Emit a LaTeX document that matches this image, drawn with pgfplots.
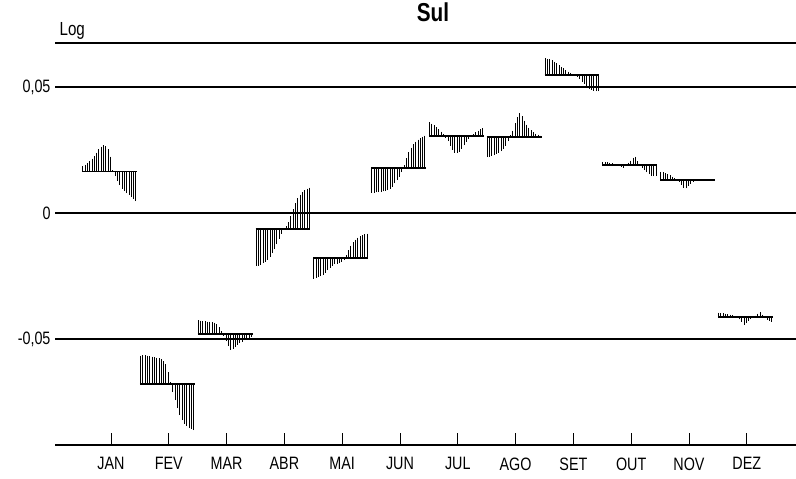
\documentclass[border=0pt]{standalone}
\usepackage{pgfplots}
\usepackage{pgfplotstable}
\pgfplotsset{compat=1.18}
\usepackage{fontspec}
\setmainfont{Liberation Sans}[FakeStretch=0.8]

\pgfplotstableread{
i m1 m2 m3 m4 m5 m6 m7 m8 m9 m10 m11 m12
0 0.01865 -0.05655 -0.04258 -0.02103 -0.02599 0.00806 0.03611 0.02222 0.06139 0.02036 0.01639 -0.03956
1 0.01925 -0.05647 -0.04270 -0.02083 -0.02579 0.00813 0.03552 0.02242 0.06123 0.02024 0.01615 -0.03968
2 0.01984 -0.05647 -0.04286 -0.02044 -0.02540 0.00821 0.03492 0.02282 0.06099 0.02012 0.01579 -0.03980
3 0.02063 -0.05655 -0.04298 -0.01984 -0.02500 0.00833 0.03413 0.02321 0.06063 0.02000 0.01548 -0.03996
4 0.02163 -0.05675 -0.04306 -0.01925 -0.02440 0.00845 0.03333 0.02361 0.06012 0.01976 0.01508 -0.04008
5 0.02262 -0.05694 -0.04313 -0.01845 -0.02361 0.00861 0.03234 0.02401 0.05952 0.01944 0.01448 -0.04036
6 0.02401 -0.05714 -0.04325 -0.01726 -0.02262 0.00885 0.03135 0.02460 0.05873 0.01913 0.01389 -0.04060
7 0.02540 -0.05734 -0.04345 -0.01587 -0.02163 0.00913 0.02996 0.02540 0.05806 0.01885 0.01349 -0.04087
8 0.02639 -0.05754 -0.04405 -0.01429 -0.02083 0.00964 0.02857 0.02679 0.05742 0.01845 0.01250 -0.04115
9 0.02698 -0.05794 -0.04524 -0.01230 -0.02024 0.01052 0.02679 0.02857 0.05675 0.01806 0.01131 -0.04218
10 0.02659 -0.05873 -0.04683 -0.01012 -0.02004 0.01179 0.02520 0.03095 0.05615 0.01925 0.01012 -0.04313
11 0.02540 -0.05992 -0.04861 -0.00813 -0.01984 0.01310 0.02401 0.03274 0.05563 0.02004 0.00980 -0.04425
12 0.02242 -0.06310 -0.05079 -0.00655 -0.01925 0.01448 0.02381 0.03571 0.05524 0.02083 0.01071 -0.04365
13 0.01706 -0.06706 -0.05278 -0.00516 -0.01845 0.01627 0.02440 0.03810 0.05496 0.02202 0.01171 -0.04286
14 0.01468 -0.07103 -0.05417 -0.00357 -0.01667 0.01905 0.02560 0.03968 0.05417 0.02242 0.01238 -0.04206
15 0.01270 -0.07421 -0.05397 -0.00119 -0.01468 0.02183 0.02698 0.03849 0.05317 0.02063 0.01270 -0.04139
16 0.01111 -0.07738 -0.05317 0.00159 -0.01290 0.02421 0.02837 0.03671 0.05218 0.01865 0.01286 -0.04067
17 0.00972 -0.08016 -0.05238 0.00397 -0.01151 0.02599 0.02937 0.03512 0.05119 0.01786 0.01294 -0.03988
18 0.00873 -0.08214 -0.05159 0.00595 -0.01052 0.02738 0.03016 0.03393 0.05020 0.01706 0.01298 -0.03929
19 0.00794 -0.08353 -0.05099 0.00734 -0.00972 0.02837 0.03135 0.03294 0.04940 0.01627 0.01302 -0.04028
20 0.00714 -0.08452 -0.05040 0.00833 -0.00913 0.02917 0.03214 0.03214 0.04889 0.01548 0.01302 -0.04127
21 0.00635 -0.08532 -0.04980 0.00913 -0.00873 0.02976 0.03274 0.03155 0.04861 0.01488 0.01306 -0.04226
22 0.00556 -0.08571 -0.04940 0.00972 -0.00833 0.03036 0.03333 0.03115 0.04841 0.01468 0.01306 -0.04266
23 0.00476 -0.08611 -0.04901 0.01012 -0.00813 0.03075 0.03373 0.03075 0.04841 0.01468 0.01310 -0.04306
}\sazonal

% #1 month position, #2 column, #3 mean of the subseries
\newcommand\subser[3]{%
  \addplot[black, line width=0.85bp, quiver={u=0, v={#3-(\thisrow{#2})}}]
    table[x expr={#1-0.49+0.04*\thisrow{i}}, y=#2] {\sazonal};
}

\begin{document}
\begin{tikzpicture}
\begin{axis}[
  at={(0,0)}, anchor=south west,
  scale only axis, width=741bp, height=402bp,
  xmin=0.031, xmax=12.851,
  ymin=-0.09206, ymax=0.0675,
  separate axis lines,
  x axis line style={black, line width=1.5bp},
  y axis line style={draw=none},
  xtick={1,2,3,4,5,6,7,8,9,10,11,12},
  xticklabels={JAN,FEV,MAR,ABR,MAI,JUN,JUL,AGO,SET,OUT,NOV,DEZ},
  xtick pos=bottom, xtick align=inside,
  major tick length=12bp,
  x tick style={black, line width=1bp},
  ytick={-0.05,0,0.05},
  yticklabels={{-0,05},{0},{0,05}},
  scaled y ticks=false,
  y tick style={draw=none},
  ytick pos=left,
  ymajorgrids,
  grid style={black, line width=1.2bp},
  every tick label/.append style={font=\fontsize{18}{20}\selectfont, text=black},
  xticklabel style={yshift=-9bp},
  yticklabel style={xshift=-1bp},
  title={\bfseries Sul},
  title style={font=\fontsize{26}{28}\selectfont, at={(0.51,1)}, anchor=base, yshift=16bp, inner sep=0pt},
  clip=false,
]
\addplot[black, line width=2.2bp] coordinates {(0.031,0) (12.851,0)};
\subser{1}{m1}{0.01647}
\subser{2}{m2}{-0.06774}
\subser{3}{m3}{-0.04790}
\subser{4}{m4}{-0.00623}
\subser{5}{m5}{-0.01798}
\subser{6}{m6}{0.01774}
\subser{7}{m7}{0.03067}
\subser{8}{m8}{0.03028}
\subser{9}{m9}{0.05476}
\subser{10}{m10}{0.01893}
\subser{11}{m11}{0.01310}
\subser{12}{m12}{-0.04139}
\addplot[black, line width=1.8bp] coordinates {(0.5,0.01647) (1.45,0.01647)};
\addplot[black, line width=1.8bp] coordinates {(1.5,-0.06774) (2.45,-0.06774)};
\addplot[black, line width=1.8bp] coordinates {(2.5,-0.04790) (3.45,-0.04790)};
\addplot[black, line width=1.8bp] coordinates {(3.5,-0.00623) (4.45,-0.00623)};
\addplot[black, line width=1.8bp] coordinates {(4.5,-0.01798) (5.45,-0.01798)};
\addplot[black, line width=1.8bp] coordinates {(5.5,0.01774) (6.45,0.01774)};
\addplot[black, line width=1.8bp] coordinates {(6.5,0.03067) (7.45,0.03067)};
\addplot[black, line width=1.8bp] coordinates {(7.5,0.03028) (8.45,0.03028)};
\addplot[black, line width=1.8bp] coordinates {(8.5,0.05476) (9.45,0.05476)};
\addplot[black, line width=1.8bp] coordinates {(9.5,0.01893) (10.45,0.01893)};
\addplot[black, line width=1.8bp] coordinates {(10.5,0.01310) (11.45,0.01310)};
\addplot[black, line width=1.8bp] coordinates {(11.5,-0.04139) (12.45,-0.04139)};
\node[anchor=base west, font=\fontsize{19}{21}\selectfont, inner sep=0pt] at (rel axis cs:0.006,1) [yshift=8bp] {Log};
\end{axis}
\pgfresetboundingbox
\useasboundingbox (-55bp,-34bp) rectangle (741bp,445bp);
\end{tikzpicture}
\end{document}
